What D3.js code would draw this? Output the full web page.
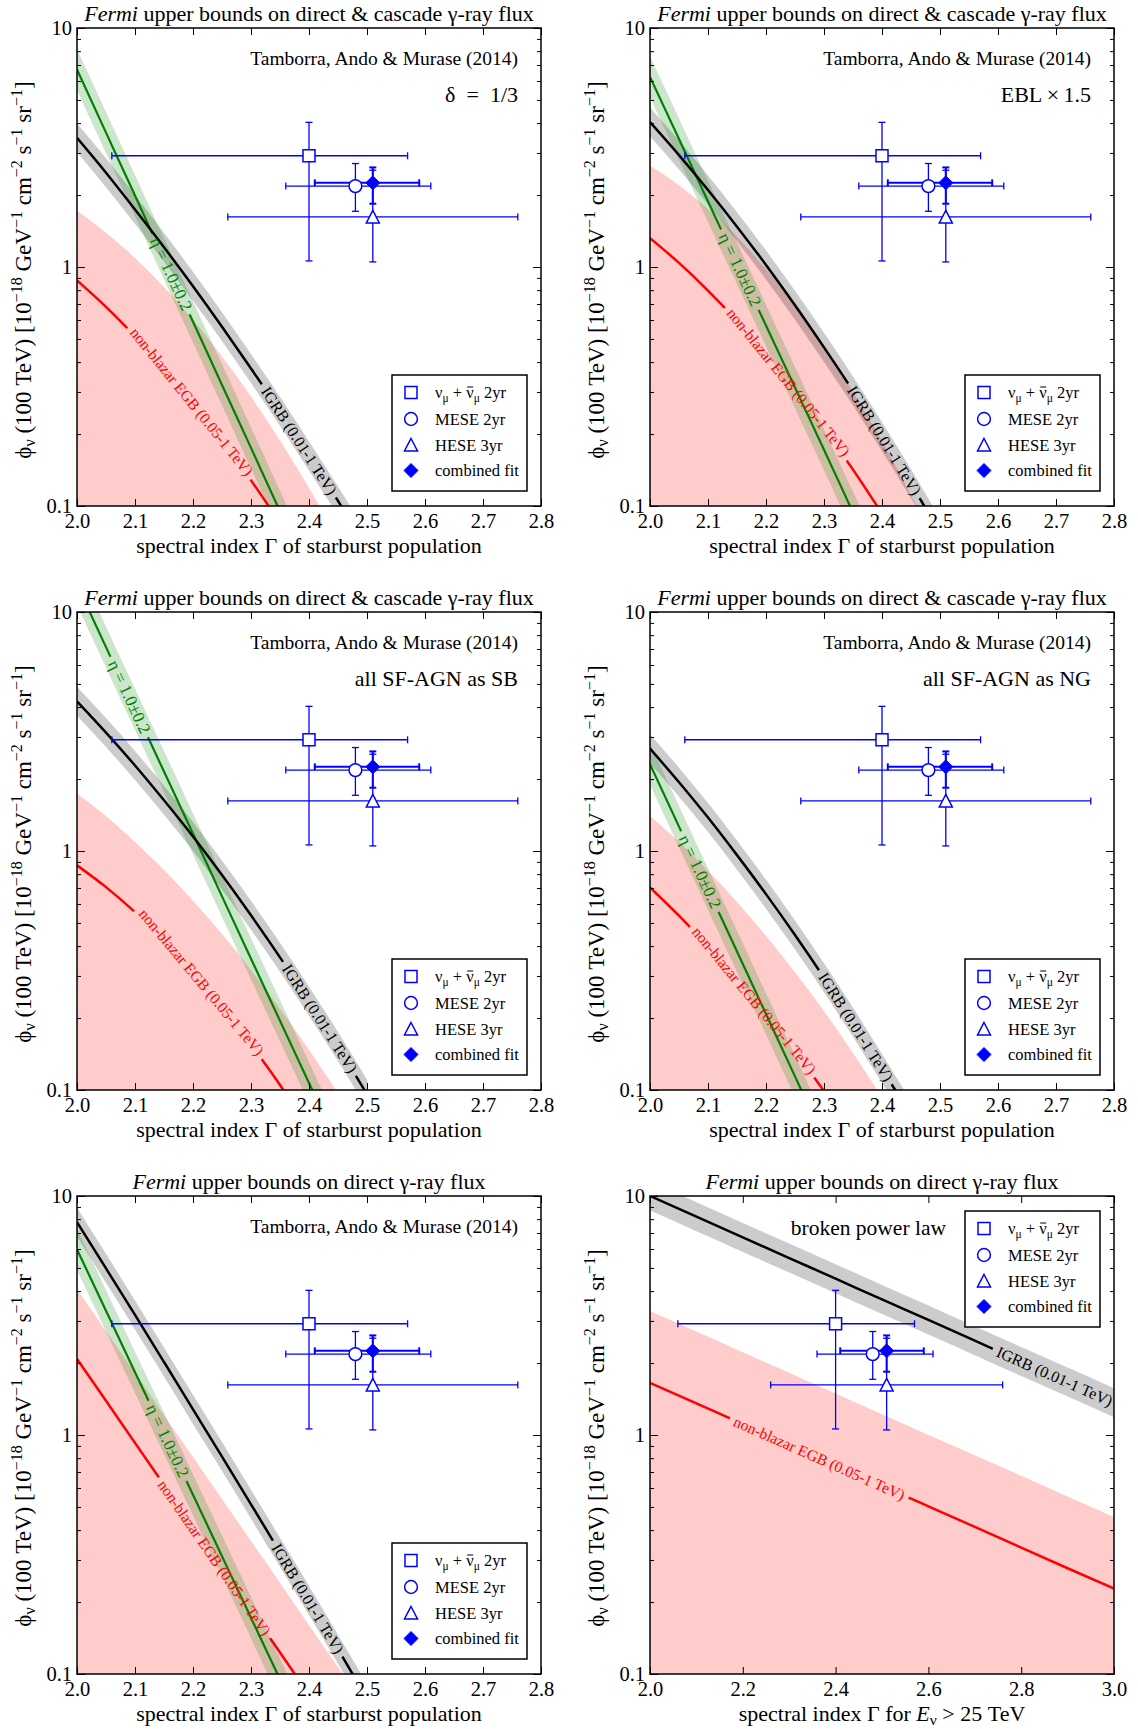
<!DOCTYPE html>
<html>
<head>
<meta charset="utf-8">
<script src="https://cdn.jsdelivr.net/npm/d3@7"></script>
<style>
  body { margin: 0; background: white; }
  text { font-family: "Liberation Serif", "Times New Roman", serif; }
</style>
</head>
<body>
<div id="chart"></div>
<script>

// spectral index grid the curves are read at
var gammaGrid = [2.0, 2.05, 2.1, 2.15, 2.2, 2.25, 2.3, 2.35, 2.4, 2.45, 2.5];
var gammaGrid6 = [2.0, 2.1, 2.2, 2.3, 2.4, 2.5, 2.6, 2.7, 2.8, 2.9, 3.0];

var xTicks = [2.0, 2.1, 2.2, 2.3, 2.4, 2.5, 2.6, 2.7, 2.8];
var xTicks6 = [2.0, 2.2, 2.4, 2.6, 2.8, 3.0];
var yTicks = [0.1, 1, 10];
var yTickLabels = ["0.1", "1", "10"];
var yMinor = [0.2, 0.3, 0.4, 0.5, 0.6, 0.7, 0.8, 0.9, 2, 3, 4, 5, 6, 7, 8, 9];

// panel 1 : delta = 1/3
var igrb1 = [3.47, 2.48, 1.74, 1.21, 0.83, 0.562, 0.376, 0.249, 0.162, 0.105, 0.067];
var eta1 = [6.70, 3.65, 1.99, 1.08, 0.59, 0.321, 0.175, 0.095, 0.052];
var egb1 = [0.879, 0.681, 0.513, 0.377, 0.270, 0.188, 0.128, 0.085];
var egbFill1 = [1.72, 1.39, 1.09, 0.824, 0.601, 0.422, 0.287, 0.188, 0.119, 0.073];

// panel 2 : EBL x 1.5
var igrb2 = [4.04, 2.94, 2.10, 1.475, 1.02, 0.692, 0.461, 0.303, 0.195, 0.124, 0.077];
var eta2 = [6.24, 3.43, 1.88, 1.035, 0.569, 0.313, 0.172, 0.094, 0.052];
var egb2 = [1.32, 1.04, 0.797, 0.595, 0.432, 0.306, 0.211, 0.142, 0.093];
var egbFill2 = [2.66, 2.20, 1.75, 1.34, 0.978, 0.687, 0.464, 0.301, 0.187, 0.111, 0.064];

// panel 3 : all SF-AGN as SB
var igrb3 = [4.23, 3.13, 2.28, 1.63, 1.15, 0.793, 0.538, 0.359, 0.235, 0.152, 0.096];
var eta3 = [13.0, 7.13, 3.91, 2.15, 1.18, 0.646, 0.354, 0.195, 0.107, 0.059];
var egb3 = [0.871, 0.706, 0.555, 0.423, 0.313, 0.224, 0.155, 0.105, 0.068];
var egbFill3 = [1.74, 1.40, 1.09, 0.833, 0.619, 0.449, 0.318, 0.219, 0.147, 0.097, 0.062];

// panel 4 : all SF-AGN as NG
var igrb4 = [2.68, 1.94, 1.38, 0.961, 0.660, 0.445, 0.295, 0.192, 0.123, 0.078];
var eta4 = [2.31, 1.265, 0.693, 0.380, 0.208, 0.114, 0.062];
var egb4 = [0.704, 0.536, 0.399, 0.291, 0.207, 0.145, 0.099, 0.066];
var egbFill4 = [1.40, 1.09, 0.827, 0.612, 0.442, 0.311, 0.214, 0.143, 0.093, 0.059];

// panel 5 : direct gamma-ray flux only
var igrb5 = [7.78, 4.98, 3.18, 2.02, 1.28, 0.812, 0.513, 0.323, 0.203, 0.127, 0.079];
var eta5 = [5.98, 3.31, 1.83, 1.015, 0.562, 0.311, 0.172, 0.095, 0.053];
var egb5 = [2.08, 1.39, 0.927, 0.619, 0.413, 0.276, 0.184, 0.123, 0.082];
var egbFill5 = [4.08, 2.72, 1.82, 1.21, 0.809, 0.540, 0.360, 0.241, 0.160, 0.107, 0.071];

// panel 6 : broken power law
var igrb6 = [10.0, 8.19, 6.71, 5.50, 4.51, 3.69, 3.03, 2.48, 2.03, 1.665, 1.365];
var egb6 = [1.654, 1.356, 1.112, 0.912, 0.748, 0.613, 0.503, 0.413, 0.338, 0.277, 0.228];
var egbFill6 = [3.30, 2.71, 2.22, 1.82, 1.49, 1.22, 1.00, 0.823, 0.675, 0.553, 0.454];

// IceCube fits (same in every panel)
var fitKinds = ["square", "circle", "triangle", "diamond"];
var fitGamma = [2.40, 2.48, 2.51, 2.51];
var fitGammaLo = [2.06, 2.36, 2.26, 2.41];
var fitGammaHi = [2.57, 2.61, 2.76, 2.59];
var fitFlux = [2.92, 2.18, 1.62, 2.25];
var fitFluxLo = [1.06, 1.71, 1.05, 1.84];
var fitFluxHi = [4.03, 2.71, 2.54, 2.61];

var panelW = 464, panelH = 478;
var blue = "#0000ff";

var svg = d3.select("#chart")
    .append("svg")
    .attr("width", 1138)
    .attr("height", 1729);

svg.append("rect")
    .attr("width", "100%")
    .attr("height", "100%")
    .attr("fill", "white");

var defs = svg.append("defs");

var panels = [
    {left: 77, top: 28, grid: gammaGrid, xMax: 2.8, ticks: xTicks, igrb: igrb1, eta: eta1, egb: egb1, fill: egbFill1,
     cascade: true, note: "δ\u2002=\u20021/3", at: [2.383, 2.162, 2.198]},
    {left: 650, top: 28, grid: gammaGrid, xMax: 2.8, ticks: xTicks, igrb: igrb2, eta: eta2, egb: egb2, fill: egbFill2,
     cascade: true, note: "EBL\u2009×\u20091.5", at: [2.404, 2.155, 2.239]},
    {left: 77, top: 612, grid: gammaGrid, xMax: 2.8, ticks: xTicks, igrb: igrb3, eta: eta3, egb: egb3, fill: egbFill3,
     cascade: true, note: "all SF-AGN as SB", at: [2.419, 2.09, 2.215]},
    {left: 650, top: 612, grid: gammaGrid, xMax: 2.8, ticks: xTicks, igrb: igrb4, eta: eta4, egb: egb4, fill: egbFill4,
     cascade: true, note: "all SF-AGN as NG", at: [2.355, 2.086, 2.18]},
    {left: 77, top: 1196, grid: gammaGrid, xMax: 2.8, ticks: xTicks, igrb: igrb5, eta: eta5, egb: egb5, fill: egbFill5,
     cascade: false, note: null, at: [2.398, 2.156, 2.237]},
    {left: 650, top: 1196, grid: gammaGrid6, xMax: 3.0, ticks: xTicks6, igrb: igrb6, eta: null, egb: egb6, fill: egbFill6,
     cascade: false, note: null, broken: true, at: [2.872, null, 2.365]}
];

function drawMarker(sel, kind, cx, cy) {
    if (kind === "square") {
        sel.append("rect")
            .attr("x", cx - 6).attr("y", cy - 6)
            .attr("width", 12).attr("height", 12)
            .attr("fill", "white").attr("stroke", blue).attr("stroke-width", 1.5);
    } else if (kind === "circle") {
        sel.append("circle")
            .attr("cx", cx).attr("cy", cy).attr("r", 6.4)
            .attr("fill", "white").attr("stroke", blue).attr("stroke-width", 1.5);
    } else if (kind === "triangle") {
        sel.append("path")
            .attr("d", "M" + cx + "," + (cy - 6.5) + "L" + (cx + 6.5) + "," + (cy + 6) + "L" + (cx - 6.5) + "," + (cy + 6) + "Z")
            .attr("fill", "white").attr("stroke", blue).attr("stroke-width", 1.5);
    } else {
        sel.append("path")
            .attr("d", "M" + cx + "," + (cy - 7) + "L" + (cx + 7) + "," + cy + "L" + cx + "," + (cy + 7) + "L" + (cx - 7) + "," + cy + "Z")
            .attr("fill", blue).attr("stroke", blue).attr("stroke-width", 1);
    }
}

function drawPanel(p, idx) {

    var g = svg.append("g")
        .attr("transform", "translate(" + p.left + "," + p.top + ")");

    var x = d3.scaleLinear().domain([2.0, p.xMax]).range([0, panelW]);
    var y = d3.scaleLog().domain([0.1, 10]).range([panelH, 0]);

    defs.append("clipPath").attr("id", "clip" + idx)
        .append("rect").attr("width", panelW).attr("height", panelH);

    var plot = g.append("g").attr("clip-path", "url(#clip" + idx + ")");
    var labels = g.append("g");

    function pts(vals) {
        return vals.map(function(v, k) { return [p.grid[k], v]; });
    }

    var line = d3.line()
        .x(function(d) { return x(d[0]); })
        .y(function(d) { return y(d[1]); })
        .curve(d3.curveMonotoneX);

    function band(f) {
        return d3.area()
            .x(function(d) { return x(d[0]); })
            .y0(function(d) { return y(d[1] / f); })
            .y1(function(d) { return y(d[1] * f); })
            .curve(d3.curveMonotoneX);
    }

    // pink region below the non-blazar EGB upper edge
    plot.append("path")
        .datum(pts(p.fill))
        .attr("d", d3.area()
            .x(function(d) { return x(d[0]); })
            .y0(panelH)
            .y1(function(d) { return y(d[1]); })
            .curve(d3.curveMonotoneX))
        .attr("fill", "red")
        .attr("fill-opacity", 0.2);

    plot.append("path")
        .datum(pts(p.igrb))
        .attr("d", band(1.15))
        .attr("fill", "black")
        .attr("fill-opacity", 0.2);

    if (p.eta) {
        plot.append("path")
            .datum(pts(p.eta))
            .attr("d", band(1.22))
            .attr("fill", "green")
            .attr("fill-opacity", 0.2);
    }

    // a line with its label sitting in a gap cut by a mask
    function labelledLine(vals, gc, txt, color, width, size, id) {
        var s = d3.scaleLinear()
            .domain(p.grid.slice(0, vals.length))
            .range(vals.map(function(v) { return Math.log10(v); }));
        var yAt = function(gg) { return y(Math.pow(10, s(gg))); };
        var h = 0.01;
        var ang = Math.atan2(yAt(gc + h) - yAt(gc - h), x(gc + h) - x(gc - h)) * 180 / Math.PI;
        var tr = "translate(" + x(gc) + "," + yAt(gc) + ") rotate(" + ang + ")";

        var t = labels.append("text")
            .attr("transform", tr)
            .attr("text-anchor", "middle")
            .attr("dominant-baseline", "central")
            .attr("font-size", size)
            .attr("fill", color)
            .text(txt);
        var len = t.node().getComputedTextLength();

        var m = defs.append("mask").attr("id", id)
            .attr("maskUnits", "userSpaceOnUse")
            .attr("x", -100).attr("y", -100)
            .attr("width", panelW + 200).attr("height", panelH + 200);
        m.append("rect")
            .attr("x", -100).attr("y", -100)
            .attr("width", panelW + 200).attr("height", panelH + 200)
            .attr("fill", "white");
        m.append("rect")
            .attr("transform", tr)
            .attr("x", -len / 2 - 5).attr("y", -size * 0.55)
            .attr("width", len + 10).attr("height", size * 1.1)
            .attr("fill", "black");

        plot.append("path")
            .datum(pts(vals))
            .attr("d", line)
            .attr("fill", "none")
            .attr("stroke", color)
            .attr("stroke-width", width)
            .attr("mask", "url(#" + id + ")");
    }

    labelledLine(p.egb, p.at[2], "non-blazar EGB (0.05-1 TeV)", "red", 2.5, 15.5, "mEgb" + idx);
    if (p.eta) {
        labelledLine(p.eta, p.at[1], "η = 1.0±0.2", "green", 2.2, 17, "mEta" + idx);
    }
    labelledLine(p.igrb, p.at[0], "IGRB (0.01-1 TeV)", "black", 2.5, 16, "mIgrb" + idx);

    // IceCube error bars and markers
    var fits = g.append("g");
    fitKinds.forEach(function(kind, k) {
        var cx = x(fitGamma[k]), cy = y(fitFlux[k]);
        var sw = kind === "diamond" ? 2 : 1.3;
        var eb = fits.append("g").attr("stroke", blue).attr("stroke-width", sw);
        eb.append("line").attr("x1", x(fitGammaLo[k])).attr("x2", x(fitGammaHi[k])).attr("y1", cy).attr("y2", cy);
        eb.append("line").attr("x1", cx).attr("x2", cx).attr("y1", y(fitFluxLo[k])).attr("y2", y(fitFluxHi[k]));
        [fitGammaLo[k], fitGammaHi[k]].forEach(function(gv) {
            eb.append("line").attr("x1", x(gv)).attr("x2", x(gv)).attr("y1", cy - 3.5).attr("y2", cy + 3.5);
        });
        [fitFluxLo[k], fitFluxHi[k]].forEach(function(fv) {
            eb.append("line").attr("x1", cx - 3.5).attr("x2", cx + 3.5).attr("y1", y(fv)).attr("y2", y(fv));
        });
    });
    fitKinds.forEach(function(kind, k) {
        drawMarker(fits, kind, x(fitGamma[k]), y(fitFlux[k]));
    });

    // legend
    var lx = 315, ly = p.broken ? 15 : 347;
    var leg = g.append("g").attr("transform", "translate(" + lx + "," + ly + ")");
    leg.append("rect")
        .attr("width", 135).attr("height", 116)
        .attr("fill", "white").attr("stroke", "black").attr("stroke-width", 1.5);
    var rows = [17.5, 44, 70, 95.5];
    fitKinds.forEach(function(kind, k) {
        drawMarker(leg, kind, 19, rows[k]);
        var t = leg.append("text")
            .attr("x", 43).attr("y", rows[k] + 5.5)
            .attr("font-size", 16.5);
        if (k === 0) {
            t.append("tspan").text("ν");
            t.append("tspan").attr("dy", 4).attr("font-size", 11.5).text("μ");
            t.append("tspan").attr("dy", -4).text(" + ν");
            t.append("tspan").attr("dy", 4).attr("font-size", 11.5).text("μ");
            t.append("tspan").attr("dy", -4).text("  2yr");
            // bar over the second nu (antineutrino)
            var node = t.node();
            var a = node.getStartPositionOfChar(5), b = node.getEndPositionOfChar(5);
            leg.append("line")
                .attr("x1", a.x + 1).attr("x2", b.x - 0.5)
                .attr("y1", rows[k] - 5.5).attr("y2", rows[k] - 5.5)
                .attr("stroke", "black").attr("stroke-width", 1);
        } else {
            t.text(["", "MESE 2yr", "HESE 3yr", "combined fit"][k]);
        }
    });

    // axes, ticks pointing inwards on all four sides
    function styleAxis(a) {
        a.select(".domain").remove();
        a.attr("font-size", 20.5).attr("font-family", "Liberation Serif, serif");
        a.selectAll("line").attr("stroke-width", 1);
    }

    g.append("g").attr("transform", "translate(0," + panelH + ")")
        .call(d3.axisBottom(x).tickValues(p.ticks).tickFormat(d3.format(".1f"))
            .tickSizeInner(-7).tickSizeOuter(0).tickPadding(7))
        .call(styleAxis);
    g.append("g")
        .call(d3.axisTop(x).tickValues(p.ticks).tickFormat("").tickSizeInner(-7).tickSizeOuter(0))
        .call(styleAxis);
    g.append("g")
        .call(d3.axisLeft(y).tickValues(yTicks)
            .tickFormat(function(d, i) { return yTickLabels[i]; })
            .tickSizeInner(-8).tickSizeOuter(0).tickPadding(5))
        .call(styleAxis);
    g.append("g")
        .call(d3.axisLeft(y).tickValues(yMinor).tickFormat("").tickSizeInner(-4).tickSizeOuter(0))
        .call(styleAxis);
    g.append("g").attr("transform", "translate(" + panelW + ",0)")
        .call(d3.axisRight(y).tickValues(yTicks).tickFormat("").tickSizeInner(-8).tickSizeOuter(0))
        .call(styleAxis);
    g.append("g").attr("transform", "translate(" + panelW + ",0)")
        .call(d3.axisRight(y).tickValues(yMinor).tickFormat("").tickSizeInner(-4).tickSizeOuter(0))
        .call(styleAxis);

    g.append("rect")
        .attr("width", panelW).attr("height", panelH)
        .attr("fill", "none").attr("stroke", "black").attr("stroke-width", 1.5);

    // title
    var title = g.append("text")
        .attr("x", panelW / 2).attr("y", -7)
        .attr("text-anchor", "middle")
        .attr("font-size", 22);
    title.append("tspan").attr("font-style", "italic").text("Fermi");
    title.append("tspan").text(p.cascade ? " upper bounds on direct & cascade γ-ray flux"
                                         : " upper bounds on direct γ-ray flux");

    // x label
    var xl = g.append("text")
        .attr("x", panelW / 2).attr("y", panelH + 47)
        .attr("text-anchor", "middle")
        .attr("font-size", 22);
    if (p.broken) {
        xl.append("tspan").text("spectral index Γ for ");
        xl.append("tspan").attr("font-style", "italic").text("E");
        xl.append("tspan").attr("dy", 4).attr("font-size", 15.5).text("ν");
        xl.append("tspan").attr("dy", -4).text(" > 25 TeV");
    } else {
        xl.text("spectral index Γ of starburst population");
    }

    // y label
    var yl = g.append("text")
        .attr("transform", "translate(-46," + (panelH / 2 + 3) + ") rotate(-90)")
        .attr("text-anchor", "middle")
        .attr("font-size", 23);
    yl.append("tspan").text("ϕ");
    yl.append("tspan").attr("dy", 4).attr("font-size", 16).text("ν");
    yl.append("tspan").attr("dy", -4).text(" (100 TeV) [10");
    [["−18", " GeV"], ["−1", " cm"], ["−2", " s"], ["−1", " sr"], ["−1", "]"]].forEach(function(pair) {
        yl.append("tspan").attr("dy", -9).attr("font-size", 16).text(pair[0]);
        yl.append("tspan").attr("dy", 9).text(pair[1]);
    });

    // annotations
    if (p.broken) {
        g.append("text")
            .attr("x", 296).attr("y", 39)
            .attr("text-anchor", "end")
            .attr("font-size", 21.5)
            .text("broken power law");
    } else {
        g.append("text")
            .attr("x", panelW - 23).attr("y", 37)
            .attr("text-anchor", "end")
            .attr("font-size", 19.5)
            .text("Tamborra, Ando & Murase (2014)");
        if (p.note) {
            g.append("text")
                .attr("x", panelW - 23).attr("y", 74)
                .attr("text-anchor", "end")
                .attr("font-size", 22)
                .text(p.note);
        }
    }
}

panels.forEach(drawPanel);

</script>
</body>
</html>
